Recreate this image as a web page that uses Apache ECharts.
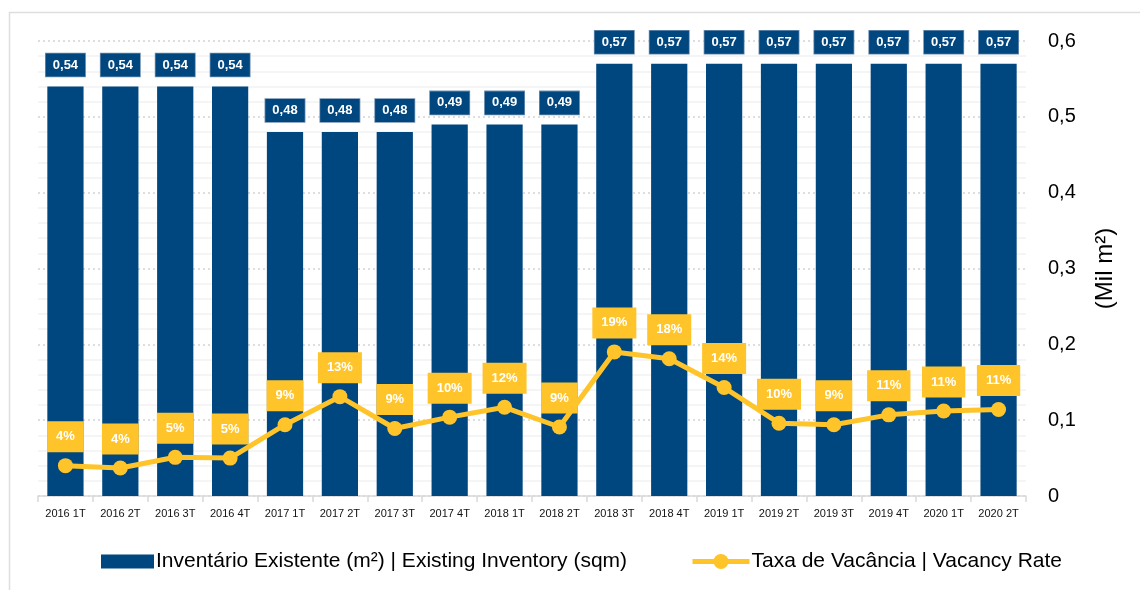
<!DOCTYPE html>
<html>
<head>
<meta charset="utf-8">
<script src="https://cdn.jsdelivr.net/npm/echarts@6/dist/echarts.min.js"></script>
<style>
  html, body { margin: 0; padding: 0; background: #ffffff; }
  #chart { width: 1140px; height: 590px; }
</style>
</head>
<body>
<div id="chart"></div>
<script>
// Quarters
const categories = [
  '2016 1T', '2016 2T', '2016 3T', '2016 4T',
  '2017 1T', '2017 2T', '2017 3T', '2017 4T',
  '2018 1T', '2018 2T', '2018 3T', '2018 4T',
  '2019 1T', '2019 2T', '2019 3T', '2019 4T',
  '2020 1T', '2020 2T'
];

// Existing inventory, million m²
const inventory = [
  0.54, 0.54, 0.54, 0.54,
  0.48, 0.48, 0.48, 0.49,
  0.49, 0.49, 0.57, 0.57,
  0.57, 0.57, 0.57, 0.57,
  0.57, 0.57
];

// Vacancy rate (fraction, drawn on the same 0–0.6 scale)
const vacancy = [
  0.040, 0.037, 0.051, 0.050,
  0.094, 0.131, 0.089, 0.104,
  0.117, 0.091, 0.190, 0.181,
  0.143, 0.096, 0.094, 0.107,
  0.112, 0.114
];

// Right axis ticks
const axisMin = 0;
const axisMax = 0.6;
const axisStep = 0.1;

const seriesNames = [
  'Inventário Existente (m²) | Existing Inventory (sqm)',
  'Taxa de Vacância | Vacancy Rate'
];

const BLUE = '#00467F';
const YELLOW = '#FFC42A';
const FONT = '"Liberation Sans", Arial, sans-serif';

const legendText = { fontSize: 21, color: '#000', fontFamily: FONT, padding: [0, 0, 0, -3] };

const chart = echarts.init(document.getElementById('chart'), null, { renderer: 'canvas' });

chart.setOption({
  animation: false,
  backgroundColor: '#ffffff',
  textStyle: { fontFamily: FONT },
  graphic: [{
    type: 'rect',
    silent: true,
    z: -10,
    shape: { x: 9.5, y: 12.5, width: 1200, height: 700 },
    style: { fill: 'none', stroke: '#dedede', lineWidth: 1.5 }
  }],
  grid: { left: 38, right: 114, top: 41, bottom: 94, containLabel: false },
  legend: [
    {
      left: 101,
      top: 551,
      padding: 0,
      itemWidth: 53,
      itemHeight: 14,
      textStyle: legendText,
      data: [{ name: seriesNames[0], icon: 'rect' }]
    },
    {
      left: 690,
      top: 551,
      padding: 0,
      itemWidth: 57,
      itemHeight: 19,
      lineStyle: { width: 5, color: YELLOW },
      textStyle: legendText,
      data: [{ name: seriesNames[1] }]
    }
  ],
  xAxis: {
    type: 'category',
    data: categories,
    axisLine: { lineStyle: { color: '#d9d9d9', width: 1.5 } },
    axisTick: { show: true, length: 6, lineStyle: { color: '#d9d9d9', width: 1.5 } },
    axisLabel: { color: '#111', fontSize: 11, margin: 12, interval: 0, fontFamily: FONT }
  },
  yAxis: {
    type: 'value',
    position: 'right',
    min: axisMin,
    max: axisMax,
    interval: axisStep,
    name: '(Mil m²)',
    nameLocation: 'middle',
    nameRotate: 90,
    nameGap: 67,
    nameTextStyle: { fontSize: 24, color: '#000', fontFamily: FONT },
    axisLine: { show: false },
    axisTick: { show: false },
    axisLabel: {
      color: '#000',
      fontSize: 20,
      margin: 22,
      fontFamily: FONT,
      formatter: v => String(Math.round(v * 10) / 10).replace('.', ',')
    },
    splitLine: { show: true, lineStyle: { color: '#d4d4d4', type: [2, 3], width: 1.5 } },
    minorTick: { show: false, splitNumber: 5 },
    minorSplitLine: { show: true, lineStyle: { color: '#f2f2f2', width: 1.5 } }
  },
  series: [
    {
      name: seriesNames[0],
      type: 'bar',
      data: inventory,
      barWidth: '66%',
      itemStyle: { color: BLUE },
      label: {
        show: true,
        position: 'top',
        distance: 10,
        formatter: p => p.value.toFixed(2).replace('.', ','),
        color: '#fff',
        fontWeight: 'bold',
        fontSize: 13,
        fontFamily: FONT,
        backgroundColor: BLUE,
        borderColor: '#6f8fb0',
        borderWidth: 0.8,
        padding: [4, 7, 4, 7],
        lineHeight: 15
      }
    },
    {
      name: seriesNames[1],
      type: 'line',
      data: vacancy,
      z: 5,
      symbol: 'circle',
      symbolSize: 15,
      lineStyle: { color: YELLOW, width: 5 },
      itemStyle: { color: YELLOW },
      label: {
        show: true,
        position: 'top',
        distance: 6,
        formatter: p => Math.round(p.value * 100) + '%',
        color: '#fff',
        fontWeight: 'bold',
        fontSize: 13,
        fontFamily: FONT,
        backgroundColor: YELLOW,
        padding: [8, 9, 8, 9],
        lineHeight: 15
      }
    }
  ]
});
</script>
</body>
</html>
